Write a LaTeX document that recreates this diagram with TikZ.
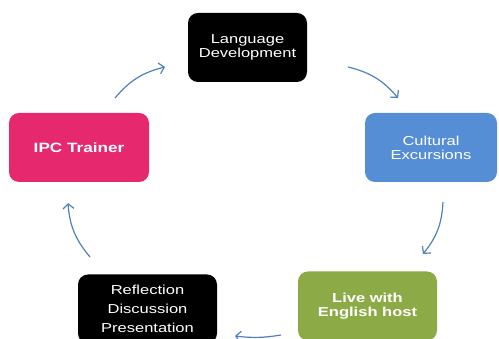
\documentclass[tikz,border=0pt]{standalone}
\usepackage{fontspec}
\setmainfont[FakeStretch=1.27]{Liberation Sans}
\usepackage{xcolor}
\usetikzlibrary{arrows.meta}

\definecolor{ipcpink}{HTML}{E6286F}
\definecolor{excblue}{HTML}{558ED5}
\definecolor{hostgreen}{HTML}{8CAB47}
\definecolor{arrowblue}{HTML}{4F81BD}

\tikzset{
  stagebox/.style={rounded corners=10pt, inner sep=0pt, minimum height=69pt,
    text=white, align=center, font=\fontsize{13}{14}\selectfont},
  cyclearrow/.style={draw=arrowblue, line width=1.2pt,
    -{Straight Barb[length=5pt,width=11pt]}}
}

\begin{document}
\begin{tikzpicture}[x=1pt,y=1pt]
\clip (0,0) rectangle (499,339);
\fill [white] (0,0) rectangle (499,339);

% the five stages
\node (lang) at (247.5,291.5) [stagebox, fill=black, minimum width=119pt] {Language\\Development};
\node (cult) at (431,191.5) [stagebox, fill=excblue, minimum width=132pt] {Cultural\\Excursions};
\node (host) at (367.5,33) [stagebox, fill=hostgreen, minimum width=139pt, font=\fontsize{13}{14}\selectfont\bfseries] {Live with\\English host};
\node (refl) at (147.5,30) [stagebox, fill=black, minimum width=139pt, font=\fontsize{13}{19}\selectfont] {Reflection\\Discussion\\Presentation};
\node (ipc) at (79,191.5) [stagebox, fill=ipcpink, minimum width=140pt, font=\fontsize{13.5}{14}\selectfont\bfseries] {IPC Trainer};

% arrow ends
\coordinate (a1s) at (115,241);
\coordinate (a1e) at (165,272);
\coordinate (a2s) at (348,272);
\coordinate (a2e) at (398,241);
\coordinate (a3s) at (443,137);
\coordinate (a3e) at (423,85);
\coordinate (a4s) at (281,4);
\coordinate (a4e) at (235,3);
\coordinate (a5s) at (90,82);
\coordinate (a5e) at (68,136);

\draw [cyclearrow] (a1s) to [bend left=18] (a1e);
\draw [cyclearrow] (a2s) to [bend left=18] (a2e);
\draw [cyclearrow] (a3s) to [bend left=18] (a3e);
\draw [cyclearrow] (a4s) to [bend left=8] (a4e);
\draw [cyclearrow] (a5s) to [bend left=18] (a5e);
\end{tikzpicture}
\end{document}
